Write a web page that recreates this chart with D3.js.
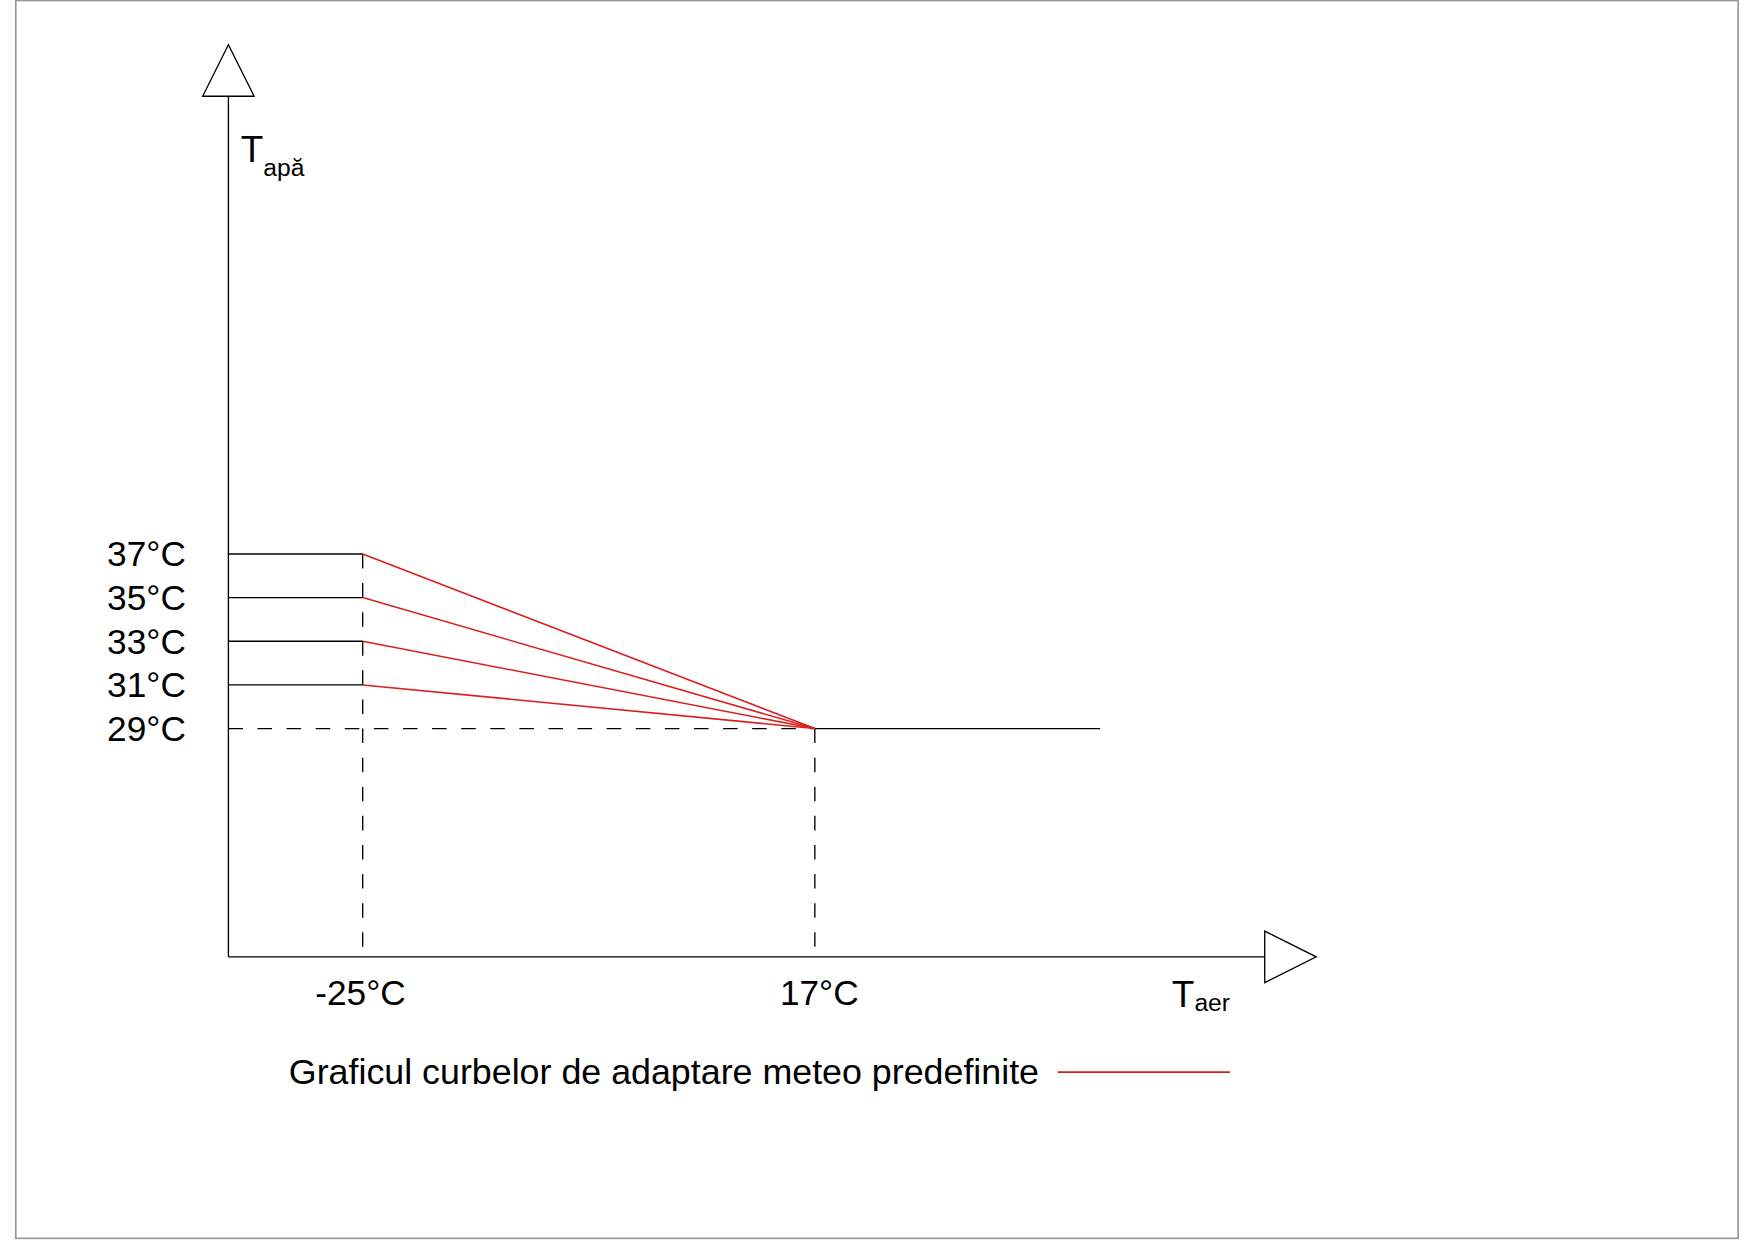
<!DOCTYPE html><html><head><meta charset="utf-8"><script src="https://cdn.jsdelivr.net/npm/d3@7"></script>
<style>body{margin:0;background:#fff}text{font-family:"Liberation Sans",Arial,sans-serif;fill:#000}</style></head><body>
<script>
const levels=[37,35,33,31];
const baseLevel=29;
const xKnots=[-25,17];
const levelLabels=["37°C","35°C","33°C","31°C","29°C"];
const xLabels=["-25°C","17°C"];
const legendText="Graficul curbelor de adaptare meteo predefinite";

const svg=d3.select("body").append("svg").attr("width",1755).attr("height",1240).attr("viewBox","0 0 1568 1108");
svg.append("rect").attr("x",14).attr("y",0.5).attr("width",1539).attr("height",1106).attr("fill","none").attr("stroke","#999").attr("stroke-width",1.5);
const x=d3.scaleLinear().domain([-25,17]).range([324,728]);
const y=d3.scaleLinear().domain([29,37]).range([651,495]);
const x0=204,yb=855,xEnd=x(43.5),xArrow=1130;
const g=svg.append("g").attr("stroke","#000").attr("stroke-width",1.2).attr("fill","none");
g.append("line").attr("x1",x0).attr("y1",yb).attr("x2",x0).attr("y2",86);
g.append("path").attr("d",`M181,86L227,86L204,40Z`).attr("fill","#fff");
g.append("line").attr("x1",x0).attr("y1",yb).attr("x2",xArrow).attr("y2",yb);
g.append("path").attr("d",`M1130,832L1130,878L1176,855Z`).attr("fill","#fff");
const dash="13,13";
g.append("line").attr("x1",x(-25)).attr("x2",x(-25)).attr("y1",y(37)).attr("y2",yb).attr("stroke-dasharray",dash);
g.append("line").attr("x1",x(17)).attr("x2",x(17)).attr("y1",y(29)).attr("y2",yb).attr("stroke-dasharray",dash);
g.append("line").attr("x1",x0).attr("x2",x(17)).attr("y1",y(29)).attr("y2",y(29)).attr("stroke-dasharray",dash);
levels.forEach(v=>g.append("line").attr("x1",x0).attr("x2",x(-25)).attr("y1",y(v)).attr("y2",y(v)));
g.append("line").attr("x1",x(17)).attr("x2",xEnd).attr("y1",y(29)).attr("y2",y(29));
levels.forEach(v=>svg.append("line").attr("x1",x(-25)).attr("y1",y(v)).attr("x2",x(17)).attr("y2",y(baseLevel)).attr("stroke","#d92020").attr("stroke-width",1.4));
[...levels,baseLevel].forEach((v,i)=>svg.append("text").attr("x",166).attr("y",y(v)+11).attr("text-anchor","end").attr("font-size",31.5).text(levelLabels[i]));
xKnots.forEach((v,i)=>svg.append("text").attr("x",x(v)+(i?4:-2)).attr("y",898).attr("text-anchor","middle").attr("font-size",31.5).text(xLabels[i]));
const t1=svg.append("text").attr("x",215).attr("y",145).attr("font-size",33);t1.append("tspan").text("T");t1.append("tspan").attr("font-size",22).attr("dy",12).text("apă");
const t2=svg.append("text").attr("x",1047).attr("y",900).attr("font-size",33);t2.append("tspan").text("T");t2.append("tspan").attr("font-size",22).attr("dy",3).text("aer");
svg.append("text").attr("x",258).attr("y",969).attr("font-size",32).text(legendText);
svg.append("line").attr("x1",945).attr("x2",1099).attr("y1",958).attr("y2",958).attr("stroke","#d92020").attr("stroke-width",1.4);
</script></body></html>
